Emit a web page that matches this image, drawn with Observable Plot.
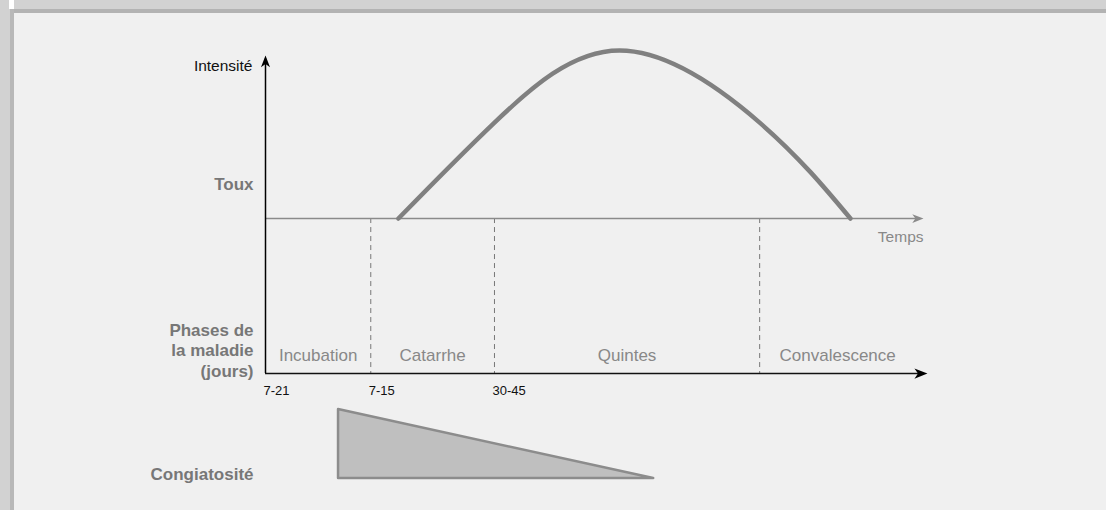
<!DOCTYPE html>
<html>
<head>
<meta charset="utf-8">
<script src="https://cdn.jsdelivr.net/npm/d3@7"></script>
<script src="https://cdn.jsdelivr.net/npm/@observablehq/plot@0.6"></script>
<style>
  html, body { margin: 0; padding: 0; }
  body { width: 1106px; height: 510px; position: relative; overflow: hidden; background: #f0f0f0; font-family: "Liberation Sans", Arial, Helvetica, sans-serif; }
  .band-top { position: absolute; left: 0; top: 0; width: 1106px; height: 9px; background: #d2d2d2; }
  .band-top-line { position: absolute; left: 10px; top: 9px; width: 1096px; height: 4px; background: #b3b3b3; }
  .band-left { position: absolute; left: 0; top: 0; width: 10px; height: 510px; background: #d2d2d2; }
  .band-left-line { position: absolute; left: 10px; top: 9px; width: 4px; height: 501px; background: #b8b8b8; }
  .band-left-white { position: absolute; left: 9px; top: 0; width: 5px; height: 9px; background: #ffffff; }
  #chart { position: absolute; left: 0; top: 0; }
  #chart svg { background: transparent; }
</style>
</head>
<body>
<div class="band-top"></div>
<div class="band-left"></div>
<div class="band-top-line"></div>
<div class="band-left-line"></div>
<div class="band-left-white"></div>
<div id="chart"></div>
<script>
// ---- data ----
const phases = ["Incubation", "Catarrhe", "Quintes", "Convalescence"];
const phaseStart = [0, 16, 34.8, 75.1];
const phaseEnd = [16, 34.8, 75.1, 98.8];
const phaseDays = ["7-21", "7-15", "30-45"];
const coughTime = [20.2, 34.8, 53.8, 75.1, 88.9];
const coughIntensity = [0, 57.1, 100, 57.1, 0];
const contagionTime = [11.1, 59];
const contagionLevel = [1, 0];
const rowLabels = ["Toux", "Phases de\nla maladie\n(jours)", "Congiatosité"];

// ---- layout (in y-scale units) ----
const AXIS = -92.3;        // phases axis
const TOP = 97;            // intensity arrow tip
const END = 100;           // time arrow tip
const CONT_BASE = -154.8, CONT_H = 41.1;
const rowY = [20.8, -78.3, -151.8];

const cough = coughTime.map((t, i) => ({t, v: coughIntensity[i]}));
const contagion = contagionTime.map((t, i) => ({t, v: contagionLevel[i]}));
const phaseRows = phases.map((p, i) => ({p, mid: (phaseStart[i] + phaseEnd[i]) / 2}));
const dayRows = phaseDays.map((d, i) => ({d, x: phaseStart[i]}));
const rows = rowLabels.map((l, i) => ({l, y: rowY[i]}));

const arrowHead = {
  draw(ctx, size) {
    const r = Math.sqrt(size / Math.PI);
    ctx.moveTo(0, 0);
    ctx.lineTo(-2 * r, -0.78 * r);
    ctx.lineTo(-1.45 * r, 0);
    ctx.lineTo(-2 * r, 0.78 * r);
    ctx.closePath();
  }
};

const chart = Plot.plot({
  width: 1106,
  height: 510,
  margin: 0,
  style: {background: "transparent", fontFamily: "'Liberation Sans', Arial, Helvetica, sans-serif"},
  x: {domain: [0, 100], range: [265, 923], axis: null},
  y: {domain: [-173.8, 129.8], range: [510, 0], axis: null},
  marks: [
    // contagiousness triangle
    Plot.areaY(contagion, {x: "t", y1: () => CONT_BASE, y2: d => CONT_BASE + d.v * CONT_H, fill: "#bfbfbf", stroke: "#8c8c8c", strokeWidth: 2.5, curve: "linear"}),
    // dashed phase boundaries
    Plot.ruleX(phaseEnd.slice(0, 3), {y1: () => 0, y2: () => AXIS, stroke: "#777", strokeWidth: 1, strokeDasharray: "5,4"}),
    // time axis (gray)
    Plot.ruleY([0], {x1: () => 0, x2: () => END - 1, stroke: "#8a8a8a", strokeWidth: 1.5}),
    Plot.dot([0], {x: () => END, y: () => 0, symbol: arrowHead, r: 5.6, fill: "#8a8a8a", stroke: "none"}),
    // phases axis (black)
    Plot.ruleY([AXIS], {x1: () => 0, x2: () => END, stroke: "#111", strokeWidth: 1.5}),
    Plot.dot([0], {x: () => END + 0.6, y: () => AXIS, symbol: arrowHead, r: 6.5, fill: "#000", stroke: "none"}),
    // intensity axis
    Plot.ruleX([0], {y1: () => AXIS, y2: () => TOP - 2, stroke: "#000", strokeWidth: 1.5}),
    Plot.dot([0], {x: () => 0, y: () => TOP, symbol: arrowHead, r: 5.8, rotate: -90, fill: "#000", stroke: "none"}),
    // cough curve
    Plot.line(cough, {x: "t", y: "v", curve: "natural", stroke: "#808080", strokeWidth: 4.5}),
    // labels
    Plot.text(["Intensité"], {x: () => 0, y: () => 90.5, dx: -13, textAnchor: "end", fontSize: 15.5, fill: "#111"}),
    Plot.text(rows, {x: () => 0, y: "y", text: "l", dx: -12, textAnchor: "end", fontSize: 17, fontWeight: "bold", fill: "#777", lineHeight: 1.18}),
    Plot.text(["Temps"], {x: () => END, y: () => -11.3, textAnchor: "end", fontSize: 15.5, fill: "#888"}),
    Plot.text(phaseRows, {x: "mid", y: () => -81.5, text: "p", fontSize: 17, fill: "#888"}),
    Plot.text(dayRows, {x: "x", y: () => -102.7, text: "d", dx: -2, textAnchor: "start", fontSize: 13, fill: "#111"})
  ]
});
document.getElementById("chart").appendChild(chart);
</script>
</body>
</html>
